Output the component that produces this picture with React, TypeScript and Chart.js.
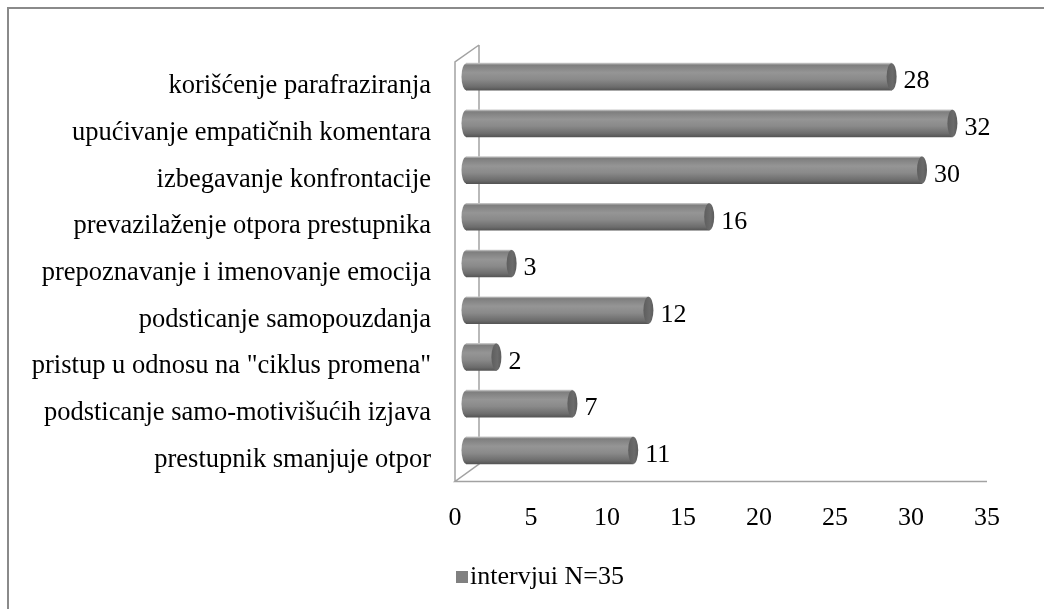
import React, { useEffect, useRef } from "react";
import { Chart, registerables } from "chart.js";

Chart.register(...registerables);

const categories = [
  "korišćenje parafraziranja",
  "upućivanje empatičnih komentara",
  "izbegavanje konfrontacije",
  "prevazilaženje otpora prestupnika",
  "prepoznavanje i imenovanje emocija",
  "podsticanje samopouzdanja",
  'pristup u odnosu na "ciklus promena"',
  "podsticanje samo-motivišućih izjava",
  "prestupnik smanjuje otpor",
];
const values = [28, 32, 30, 16, 3, 12, 2, 7, 11];
const seriesLabel = "intervjui N=35";
const xTicks = [0, 5, 10, 15, 20, 25, 30, 35];

const FONT = '"Liberation Serif", "Times New Roman", serif';
const FS = 26;
const FS_CAT = 26.5;

function addStops(g: CanvasGradient) {
  g.addColorStop(0, "#c8c8c8");
  g.addColorStop(0.07, "#7e7e7e");
  g.addColorStop(0.35, "#959595");
  g.addColorStop(0.6, "#8a8a8a");
  g.addColorStop(0.88, "#6c6c6c");
  g.addColorStop(1, "#555555");
}

const decorPlugin = {
  id: "decor",
  beforeDraw(chart: any) {
    const { ctx, width, height } = chart;
    ctx.save();
    ctx.fillStyle = "#ffffff";
    ctx.fillRect(0, 0, width, height);
    ctx.strokeStyle = "#8a8a8a";
    ctx.lineWidth = 2;
    ctx.beginPath();
    ctx.moveTo(8, height);
    ctx.lineTo(8, 8);
    ctx.lineTo(width, 8);
    ctx.stroke();
    ctx.restore();
  },
  beforeDatasetsDraw(chart: any) {
    const { ctx, chartArea: a, scales } = chart;
    const x0 = scales.x.getPixelForValue(xTicks[0]);
    const xEnd = scales.x.getPixelForValue(xTicks[xTicks.length - 1]);
    const fx = x0 - 11;
    const bx = x0 + 13;
    ctx.save();
    ctx.strokeStyle = "#a2a2a2";
    ctx.lineWidth = 1.5;
    ctx.beginPath();
    ctx.moveTo(bx, a.top - 8.3);
    ctx.lineTo(bx, a.bottom - 9.7);
    ctx.lineTo(fx, a.bottom + 7.8);
    ctx.lineTo(xEnd - 11, a.bottom + 7.8);
    ctx.moveTo(fx, a.bottom + 7.8);
    ctx.lineTo(fx, a.top + 8.7);
    ctx.lineTo(bx, a.top - 8.3);
    ctx.stroke();
    ctx.restore();
  },
  afterDatasetsDraw(chart: any) {
    const { ctx } = chart;
    const meta = chart.getDatasetMeta(0);
    ctx.save();
    meta.data.forEach((el: any, i: number) => {
      const h = el.height;
      const top = el.y - h / 2;
      const g = ctx.createLinearGradient(0, top, 0, top + h);
      addStops(g);
      ctx.fillStyle = g;
      ctx.beginPath();
      ctx.ellipse(el.base + 0.5, el.y, 5, h / 2, 0, Math.PI / 2, (Math.PI * 3) / 2);
      ctx.closePath();
      ctx.fill();
      const g2 = ctx.createLinearGradient(el.x - 5, 0, el.x + 5, 0);
      g2.addColorStop(0, "#5e5e5e");
      g2.addColorStop(0.6, "#6b6b6b");
      g2.addColorStop(1, "#5c5c5c");
      ctx.fillStyle = g2;
      ctx.beginPath();
      ctx.ellipse(el.x, el.y, 5, h / 2, 0, 0, Math.PI * 2);
      ctx.fill();
      ctx.fillStyle = "#000000";
      ctx.font = `${FS}px ${FONT}`;
      ctx.textAlign = "left";
      ctx.textBaseline = "middle";
      ctx.fillText(String(values[i]), el.x + 12, el.y + 5);
    });
    ctx.restore();
  },
  afterDraw(chart: any) {
    const { ctx } = chart;
    const cy = 577;
    ctx.save();
    ctx.fillStyle = "#808080";
    ctx.fillRect(456, cy - 6, 12, 12);
    ctx.fillStyle = "#000000";
    ctx.font = `${FS}px ${FONT}`;
    ctx.textAlign = "left";
    ctx.textBaseline = "middle";
    ctx.fillText(chart.data.datasets[0].label, 470, cy);
    ctx.restore();
  },
};

export default function App() {
  const ref = useRef<HTMLCanvasElement | null>(null);
  useEffect(() => {
    if (!ref.current) return;
    const chart = new Chart(ref.current, {
      type: "bar",
      data: {
        labels: categories,
        datasets: [
          {
            label: seriesLabel,
            data: values,
            barThickness: 27,
            borderWidth: 0,
            backgroundColor: (c: any) => {
              const ch = c.chart;
              if (!ch.chartArea || c.dataIndex == null || !ch.scales.y) return "#808080";
              const y = ch.scales.y.getPixelForValue(c.dataIndex);
              const g = ch.ctx.createLinearGradient(0, y - 13.5, 0, y + 13.5);
              addStops(g);
              return g;
            },
          },
        ],
      },
      options: {
        indexAxis: "y",
        responsive: false,
        animation: false,
        events: [],
        layout: { padding: { left: 8, top: 53.3, right: 46, bottom: 0 } },
        plugins: { legend: { display: false }, tooltip: { enabled: false } },
        scales: {
          x: {
            min: xTicks[0],
            max: xTicks[xTicks.length - 1],
            grid: { display: false },
            border: { display: false },
            afterFit: (s: any) => {
              s.height = 609 - 473.7;
            },
            ticks: {
              stepSize: 5,
              padding: 21,
              labelOffset: -11,
              maxRotation: 0,
              autoSkip: false,
              color: "#000000",
              font: { family: FONT, size: FS },
            },
          },
          y: {
            grid: { display: false },
            border: { display: false },
            afterFit: (s: any) => {
              s.width = 466 - 8;
            },
            ticks: {
              padding: 27,
              labelOffset: 9.5,
              autoSkip: false,
              color: "#000000",
              font: { family: FONT, size: FS_CAT },
            },
          },
        },
      },
      plugins: [decorPlugin],
    });
    return () => chart.destroy();
  }, []);
  return (
    <canvas
      ref={ref}
      width={1044}
      height={609}
      style={{ position: "fixed", left: 0, top: 0, width: 1044, height: 609 }}
    />
  );
}
